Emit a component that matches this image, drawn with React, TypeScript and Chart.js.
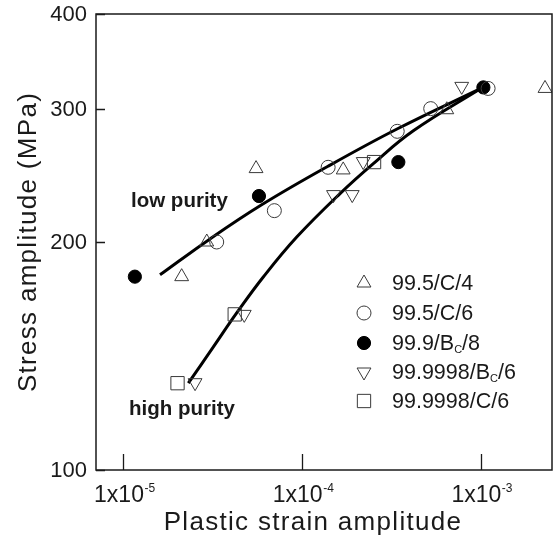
import React, { useEffect, useRef } from 'react';
import { Chart, registerables } from 'chart.js';

Chart.register(...registerables);

// ---- axis ranges & ticks ----
const xMin = 7.03e-6;
const xMax = 2.506e-3;
const yMin = 100;
const yMax = 400;
const xTickValues = [1e-5, 1e-4, 1e-3];
const xTickExponents = ['-5', '-4', '-3'];
const yTickValues = [100, 200, 300, 400];

// ---- series data (plastic strain amplitude, stress amplitude MPa) ----
const c4Strain = [2.12e-5, 2.93e-5, 5.53e-5, 1.70e-4, 6.46e-4, 2.29e-3];
const c4Stress = [180, 200, 250, 249, 299, 319];
const c6Strain = [3.33e-5, 7.0e-5, 1.40e-4, 3.41e-4, 5.25e-4, 1.10e-3];
const c6Stress = [200, 220, 251, 280, 300, 319];
const bc8Strain = [1.16e-5, 5.74e-5, 3.46e-4, 1.035e-3];
const bc8Stress = [180, 230, 255, 320];
const hpBcStrain = [2.52e-5, 4.75e-5, 1.50e-4, 1.91e-4, 2.20e-4, 7.83e-4];
const hpBcStress = [130.4, 160.5, 231, 231, 255.4, 321];
const hpCStrain = [2.01e-5, 4.2e-5, 2.53e-4];
const hpCStress = [130.2, 160.5, 255];

// fitted curves
const lowFitStrain = [1.604e-5, 3.056e-5, 5.974e-5, 1.398e-4, 3.401e-4, 1.017e-3];
const lowFitStress = [181.0, 201.9, 224.1, 251.8, 282.0, 319.6];
const highFitStrain = [2.31e-5, 3.19e-5, 4.31e-5, 6.07e-5, 9.34e-5, 1.632e-4, 2.506e-4, 4.196e-4, 1.017e-3];
const highFitStress = [130.2, 145.4, 161.2, 179.8, 203.0, 231.7, 253.8, 280.4, 319.6];

const legendLabels = ['99.5/C/4', '99.5/C/6', '99.9/B_{C}/8', '99.9998/B_{C}/6', '99.9998/C/6'];
const xTitle = 'Plastic strain amplitude';
const yTitle = 'Stress amplitude (MPa)';
const lowLabel = 'low purity';
const highLabel = 'high purity';

const FONT = "'Liberation Sans', Arial, Helvetica, sans-serif";
const INK = '#1a1a1a';
const MARK = '#3a3a3a';

const zip = (xs: number[], ys: number[]) => xs.map((x, i) => ({ x, y: ys[i] }));

type MarkerStyle = { pointStyle: string; radius: number; rotation: number; fill: string; stroke: string };
const markerStyles: MarkerStyle[] = [
  { pointStyle: 'triangle', radius: 8, rotation: 0, fill: 'rgba(0,0,0,0)', stroke: MARK },
  { pointStyle: 'circle', radius: 7, rotation: 0, fill: 'rgba(0,0,0,0)', stroke: MARK },
  { pointStyle: 'circle', radius: 6.6, rotation: 0, fill: '#000', stroke: '#000' },
  { pointStyle: 'triangle', radius: 8, rotation: 180, fill: 'rgba(0,0,0,0)', stroke: MARK },
  { pointStyle: 'rect', radius: 9.4, rotation: 0, fill: 'rgba(0,0,0,0)', stroke: MARK },
];

// legend swatch drawn with the same geometry Chart.js uses for its point styles
function drawMarker(ctx: CanvasRenderingContext2D, m: MarkerStyle, x: number, y: number) {
  ctx.save();
  ctx.fillStyle = m.fill;
  ctx.strokeStyle = m.stroke;
  ctx.lineWidth = 1;
  ctx.beginPath();
  if (m.pointStyle === 'circle') {
    ctx.arc(x, y, m.radius, 0, Math.PI * 2);
  } else if (m.pointStyle === 'triangle') {
    let rad = (m.rotation * Math.PI) / 180;
    for (let k = 0; k < 3; k++) {
      const px = x + Math.sin(rad) * m.radius;
      const py = y - Math.cos(rad) * m.radius;
      if (k === 0) ctx.moveTo(px, py);
      else ctx.lineTo(px, py);
      rad += (2 * Math.PI) / 3;
    }
    ctx.closePath();
  } else {
    const s = Math.SQRT1_2 * m.radius;
    ctx.rect(x - s, y - s, 2 * s, 2 * s);
  }
  ctx.fill();
  ctx.stroke();
  ctx.restore();
}

function drawRich(ctx: CanvasRenderingContext2D, x: number, baseline: number, text: string, size: number) {
  const parts = text.split(/(_\{[^}]*\})/).filter((p) => p.length);
  let cx = x;
  ctx.textAlign = 'left';
  ctx.textBaseline = 'alphabetic';
  for (const p of parts) {
    if (p.startsWith('_{')) {
      const s = p.slice(2, -1);
      ctx.font = `${Math.round(size * 0.5)}px ${FONT}`;
      ctx.fillText(s, cx, baseline + 3);
      cx += ctx.measureText(s).width;
    } else {
      ctx.font = `${size}px ${FONT}`;
      ctx.fillText(p, cx, baseline);
      cx += ctx.measureText(p).width;
    }
  }
}

const decorPlugin = {
  id: 'decor',
  afterDraw(chart: any) {
    const { ctx, chartArea } = chart;
    const xs = chart.scales.x;
    const ys = chart.scales.y;
    const { left, right, top, bottom } = chartArea;
    ctx.save();
    // frame
    ctx.strokeStyle = INK;
    ctx.lineWidth = 1.5;
    ctx.strokeRect(left, top, right - left, bottom - top);
    // ticks (inward)
    ctx.lineWidth = 1.3;
    ctx.beginPath();
    xTickValues.forEach((v) => {
      const px = Math.round(xs.getPixelForValue(v)) + 0.5;
      ctx.moveTo(px, bottom);
      ctx.lineTo(px, bottom - 16);
    });
    yTickValues.forEach((v) => {
      const py = Math.round(ys.getPixelForValue(v)) + 0.5;
      ctx.moveTo(left, py);
      ctx.lineTo(left + 9, py);
    });
    ctx.stroke();

    ctx.fillStyle = INK;
    // y tick labels
    ctx.font = `22px ${FONT}`;
    ctx.textAlign = 'right';
    ctx.textBaseline = 'middle';
    yTickValues.forEach((v) => {
      ctx.fillText(String(v), left - 9, ys.getPixelForValue(v) + 1);
    });
    // x tick labels 1x10^n
    xTickValues.forEach((v, i) => {
      const px = xs.getPixelForValue(v);
      ctx.font = `23px ${FONT}`;
      const base = '1x10';
      const w1 = ctx.measureText(base).width;
      ctx.font = `12px ${FONT}`;
      const w2 = ctx.measureText(xTickExponents[i]).width;
      const start = px - (w1 + w2) / 2 + 1;
      ctx.textAlign = 'left';
      ctx.textBaseline = 'alphabetic';
      ctx.font = `23px ${FONT}`;
      ctx.fillText(base, start, 502);
      ctx.font = `12px ${FONT}`;
      ctx.fillText(xTickExponents[i], start + w1 + 0.5, 492);
    });
    // axis titles
    (ctx as any).letterSpacing = '1.3px';
    ctx.font = `26px ${FONT}`;
    ctx.textAlign = 'center';
    ctx.textBaseline = 'alphabetic';
    ctx.fillText(xTitle, 313, 530);
    ctx.save();
    ctx.translate(36, (top + bottom) / 2);
    ctx.rotate(-Math.PI / 2);
    ctx.fillText(yTitle, 0, 0);
    ctx.restore();
    (ctx as any).letterSpacing = '0px';

    // annotations
    ctx.font = `bold 20.5px ${FONT}`;
    ctx.textAlign = 'left';
    ctx.fillText(lowLabel, 131, 207);
    ctx.fillText(highLabel, 129, 415);

    // legend
    const rows = [283, 313, 343, 372, 401];
    legendLabels.forEach((lab, i) => {
      const cy = rows[i];
      drawMarker(ctx, markerStyles[i], 364, cy);
      ctx.fillStyle = INK;
      drawRich(ctx, 392, cy + 7, lab, 21.5);
    });
    ctx.restore();
  },
};

export default function App() {
  const ref = useRef<HTMLCanvasElement | null>(null);
  useEffect(() => {
    document.body.style.margin = '0';
    const canvas = ref.current;
    if (!canvas) return;
    const seriesData = [
      zip(c4Strain, c4Stress),
      zip(c6Strain, c6Stress),
      zip(bc8Strain, bc8Stress),
      zip(hpBcStrain, hpBcStress),
      zip(hpCStrain, hpCStress),
    ];
    const markerSets = seriesData.map((d, i) => ({
      type: 'scatter' as const,
      label: legendLabels[i],
      data: d,
      pointStyle: markerStyles[i].pointStyle as any,
      pointRadius: markerStyles[i].radius,
      rotation: markerStyles[i].rotation,
      backgroundColor: markerStyles[i].fill,
      borderColor: markerStyles[i].stroke,
      borderWidth: 1,
      showLine: false,
      order: 0,
    }));
    const curveSets = [
      zip(lowFitStrain, lowFitStress),
      zip(highFitStrain, highFitStress),
    ].map((d, i) => ({
      type: 'scatter' as const,
      label: i === 0 ? lowLabel : highLabel,
      data: d,
      showLine: true,
      pointRadius: 0,
      borderColor: '#000',
      borderWidth: 3,
      tension: 0.4,
      fill: false,
      order: 1,
    }));
    const chart = new Chart(canvas, {
      type: 'scatter',
      data: { datasets: [...markerSets, ...curveSets] as any },
      options: {
        responsive: false,
        animation: false,
        devicePixelRatio: 1,
        layout: { autoPadding: false, padding: { left: 96, right: 4, top: 14, bottom: 69 } },
        plugins: { legend: { display: false }, tooltip: { enabled: false } },
        scales: {
          x: { type: 'logarithmic', min: xMin, max: xMax, bounds: 'data', display: false },
          y: { type: 'logarithmic', min: yMin, max: yMax, bounds: 'data', display: false },
        },
      },
      plugins: [decorPlugin],
    });
    return () => chart.destroy();
  }, []);
  return (
    <div style={{ position: 'absolute', left: 0, top: 0, width: 556, height: 539, background: '#fff' }}>
      <canvas ref={ref} width={556} height={539} style={{ display: 'block' }} />
    </div>
  );
}
